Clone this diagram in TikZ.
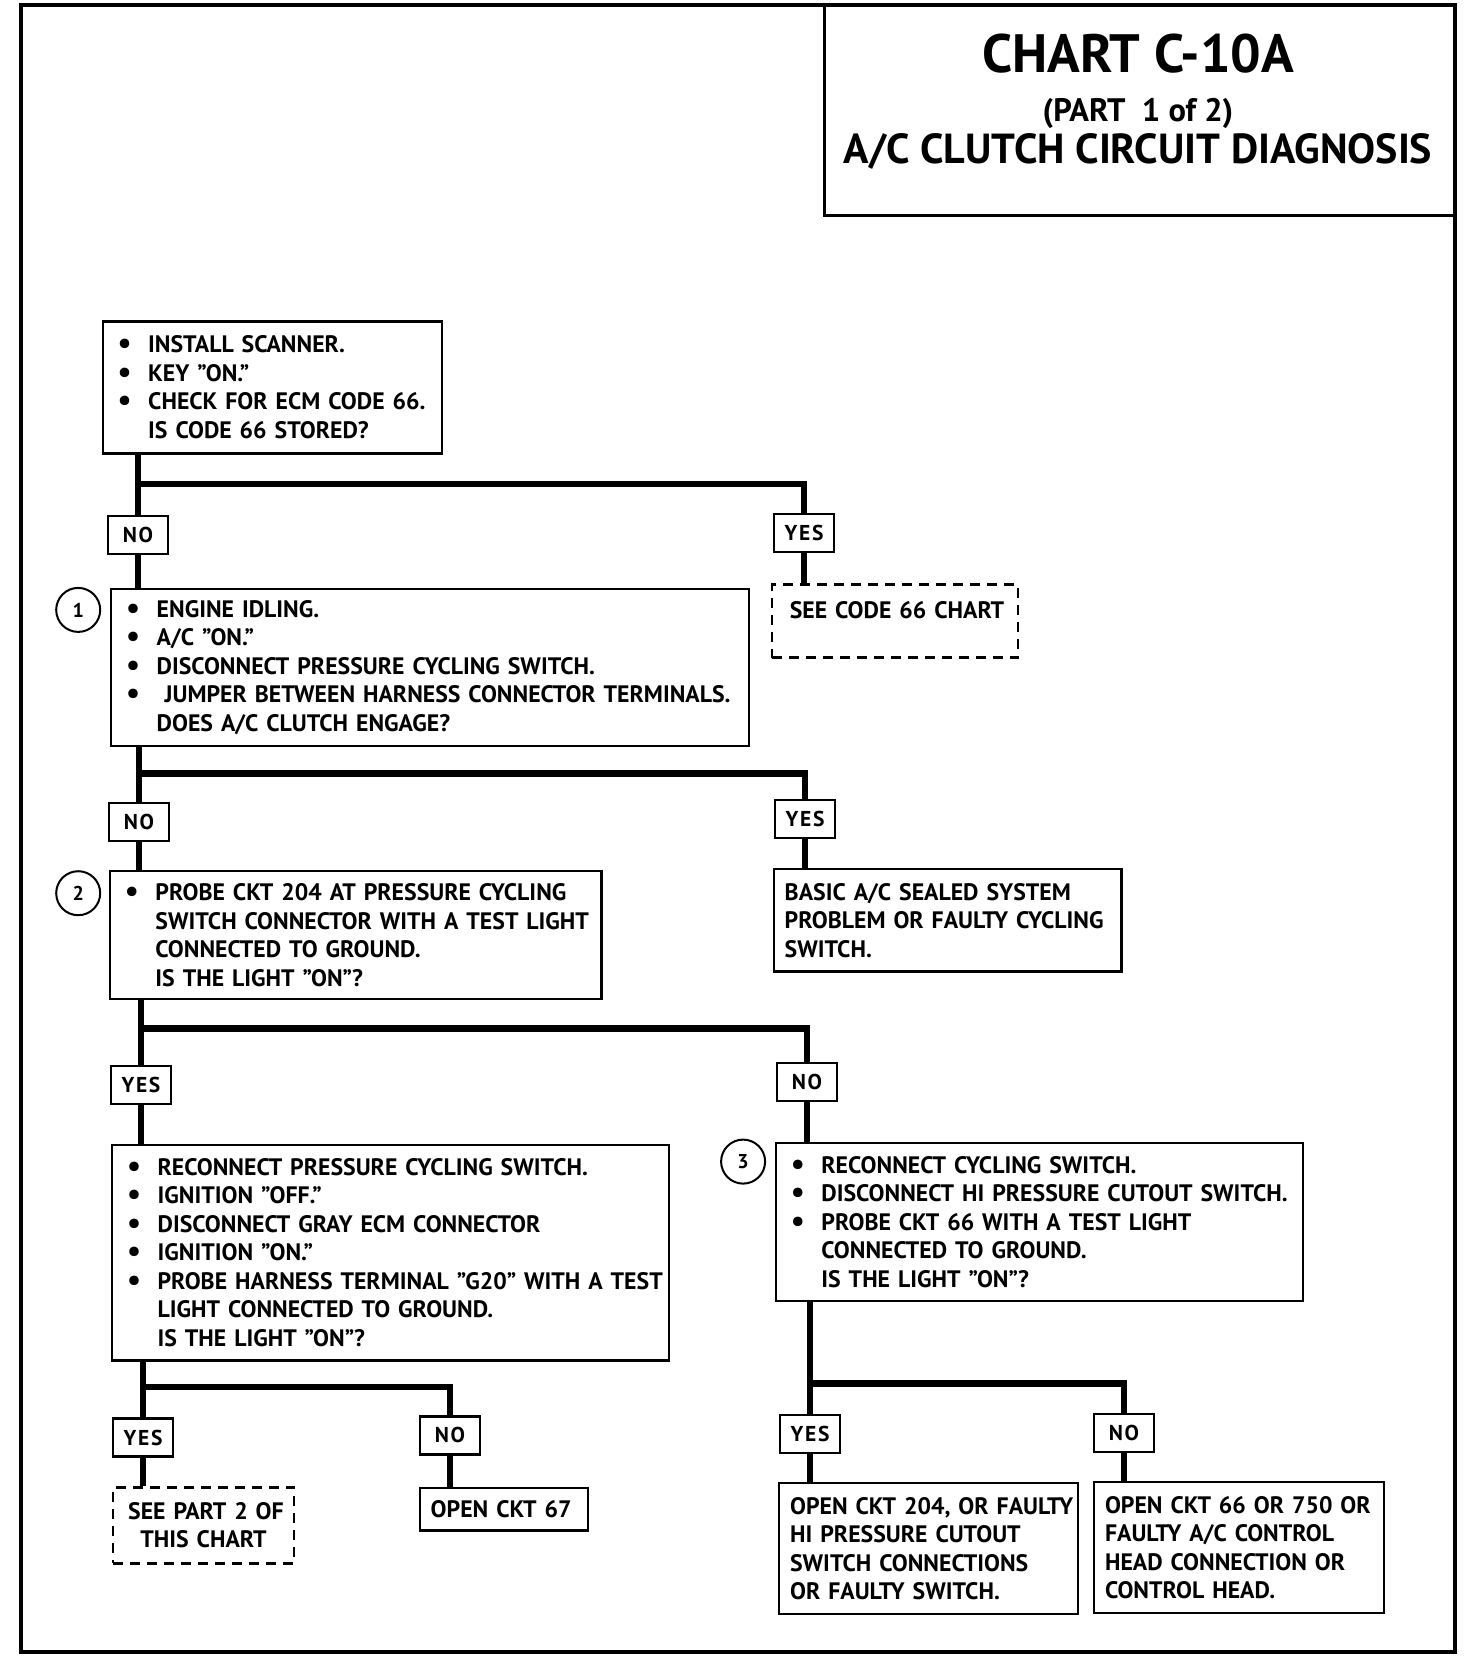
\documentclass[tikz,border=0pt]{standalone}
\usepackage{fontspec}
\setmainfont{PT Sans}
\newfontfamily\lblfont{PT Sans}[LetterSpace=8.0]
\newcommand{\dotmark}{\raisebox{-0.08ex}{\scalebox{1.3}{\textbullet}}}
\newcommand{\itm}[1]{\makebox[30.5pt][l]{\dotmark}\mbox{#1}}
\newcommand{\cnt}[1]{\hspace*{30.5pt}\mbox{#1}}
\newcommand{\rowtxt}[1]{\mbox{#1}}
\begin{document}
\begin{tikzpicture}[x=1pt,y=-1pt,
    every node/.style={font=\bfseries\fontsize{23.8}{28.5}\selectfont},
    box/.style={draw,line width=2.2pt,inner xsep=15pt,inner ysep=0pt,align=left},
    plain/.style={box,inner xsep=11pt},
    hint/.style={box,dash pattern=on 10pt off 7pt,line width=2.4pt},
    ans/.style={draw,line width=2.2pt,inner sep=0pt,minimum height=38pt,minimum width=60pt,font=\lblfont\bfseries\fontsize{21.5}{24}\selectfont},
    stepno/.style={draw,circle,line width=2pt,minimum size=44pt,inner sep=0pt,font=\bfseries\fontsize{20}{22}\selectfont},
    flow/.style={line width=6.5pt,line join=miter}]
\useasboundingbox (0,0) rectangle (1472,1656);
\draw[line width=4pt] (21,5) rectangle (1455,1652);

\node[draw,line width=2.5pt,minimum width=630pt,minimum height=210.6pt] (ttl) at (1139.5,110.3) {};
\node[font=\bfseries\fontsize{54}{60}\selectfont] (ttl1) at (1138,54) {CHART C-10A};
\node[font=\bfseries\fontsize{32.5}{36}\selectfont] (ttl2) at (1138,113.5) {(PART\ \ 1 of 2)};
\node[font=\bfseries\fontsize{42}{46}\selectfont] (ttl3) at (1138,151) {A/C CLUTCH CIRCUIT DIAGNOSIS};

\node[box,text width=309pt,minimum height=132pt] (q0) at (272.2,387.4) {\itm{INSTALL SCANNER.}\\ \itm{KEY ”ON.”}\\ \itm{CHECK FOR ECM CODE 66.}\\ \cnt{IS CODE 66 STORED?}};
\node[ans] (no1) at (138,534.8) {NO}; \node[ans] (yes1) at (804,533.3) {YES};
\node[hint,inner xsep=18pt,text width=210pt,text height=34pt,text depth=39pt] (code66) at (894.8,621) {\rowtxt{SEE CODE 66 CHART}};

\node[stepno] (c1) at (78.2,609.9) {1};
\node[box,text width=608pt,minimum height=157.5pt] (q1) at (430.2,667.5) {\itm{ENGINE IDLING.}\\ \itm{A/C ”ON.”}\\ \itm{DISCONNECT PRESSURE CYCLING SWITCH.}\\ \itm{\ JUMPER BETWEEN HARNESS CONNECTOR TERMINALS.}\\ \cnt{DOES A/C CLUTCH ENGAGE?}};
\node[ans] (no2) at (139,821.9) {NO}; \node[ans] (yes2) at (805,819.2) {YES};
\node[plain,text width=325.8pt,minimum height=102.5pt] (basic) at (947.6,920.2) {\rowtxt{BASIC A/C SEALED SYSTEM}\\ \rowtxt{PROBLEM OR FAULTY CYCLING}\\ \rowtxt{SWITCH.}};

\node[stepno] (c2) at (78.2,893.2) {2};
\node[box,text width=461.5pt,minimum height=128pt] (q2) at (355.7,935) {\itm{PROBE CKT 204 AT PRESSURE CYCLING}\\ \cnt{SWITCH CONNECTOR WITH A TEST LIGHT}\\ \cnt{CONNECTED TO GROUND.}\\ \cnt{IS THE LIGHT ”ON”?}};
\node[ans] (yes3) at (141,1085) {YES}; \node[ans] (no3) at (807,1081.9) {NO};

\node[box,text width=527pt,minimum height=215.6pt] (q3) at (390.6,1252.6) {\itm{RECONNECT PRESSURE CYCLING SWITCH.}\\ \itm{IGNITION ”OFF.”}\\ \itm{DISCONNECT GRAY ECM CONNECTOR}\\ \itm{IGNITION ”ON.”}\\ \itm{PROBE HARNESS TERMINAL ”G20” WITH A TEST}\\ \cnt{LIGHT CONNECTED TO GROUND.}\\ \cnt{IS THE LIGHT ”ON”?}};
\node[stepno] (c3) at (743.1,1161.6) {3};
\node[box,text width=497.4pt,minimum height=158.6pt] (q4) at (1039.6,1221.9) {\itm{RECONNECT CYCLING SWITCH.}\\ \itm{DISCONNECT HI PRESSURE CUTOUT SWITCH.}\\ \itm{PROBE CKT 66 WITH A TEST LIGHT}\\ \cnt{CONNECTED TO GROUND.}\\ \cnt{IS THE LIGHT ”ON”?}};

\node[ans] (yes4) at (143,1437.5) {YES}; \node[ans] (no4) at (450,1435.4) {NO};
\node[hint,align=center,text width=150.7pt,minimum height=76pt] (part2) at (203.5,1525.3) {\rowtxt{SEE PART 2 OF}\\ \rowtxt{THIS CHART}};
\node[plain,text width=146pt,minimum height=42.3pt] (ckt67) at (503.7,1509.4) {\rowtxt{OPEN CKT 67}};
\node[ans] (yes5) at (810,1434.3) {YES}; \node[ans] (no5) at (1124,1432.7) {NO};
\node[plain,text width=277pt,minimum height=131pt] (fin1) at (928.6,1548.5) {\rowtxt{OPEN CKT 204, OR FAULTY}\\ \rowtxt{HI PRESSURE CUTOUT}\\ \rowtxt{SWITCH CONNECTIONS}\\ \rowtxt{OR FAULTY SWITCH.}};
\node[plain,text width=267.6pt,minimum height=131pt] (fin2) at (1238.8,1547.5) {\rowtxt{OPEN CKT 66 OR 750 OR}\\ \rowtxt{FAULTY A/C CONTROL}\\ \rowtxt{HEAD CONNECTION OR}\\ \rowtxt{CONTROL HEAD.}};

\coordinate (s1) at (138,484.1); \coordinate (s2) at (139,773.7); \coordinate (s3) at (141,1028.5);
\coordinate (s4) at (143,1386.8); \coordinate (s5) at (810,1383.6);

\draw[flow] (q0.south -| no1) -- (no1.north); \draw[flow] (s1) -| (yes1.north);
\draw[flow] (no1.south) -- (no1.south |- q1.north); \draw[flow] (yes1.south) -- (yes1.south |- code66.north);
\draw[flow] (q1.south -| no2) -- (no2.north); \draw[flow] (s2) -| (yes2.north);
\draw[flow] (no2.south) -- (no2.south |- q2.north); \draw[flow] (yes2.south) -- (yes2.south |- basic.north);
\draw[flow] (q2.south -| yes3) -- (yes3.north); \draw[flow] (s3) -| (no3.north);
\draw[flow] (yes3.south) -- (yes3.south |- q3.north); \draw[flow] (no3.south) -- (no3.south |- q4.north);
\draw[flow] (q3.south -| yes4) -- (yes4.north); \draw[flow] (s4) -| (no4.north);
\draw[flow] (yes4.south) -- (yes4.south |- part2.north); \draw[flow] (no4.south) -- (no4.south |- ckt67.north);
\draw[flow] (q4.south -| yes5) -- (yes5.north); \draw[flow] (s5) -| (no5.north);
\draw[flow] (yes5.south) -- (yes5.south |- fin1.north); \draw[flow] (no5.south) -- (no5.south |- fin2.north);
\end{tikzpicture}
\end{document}
